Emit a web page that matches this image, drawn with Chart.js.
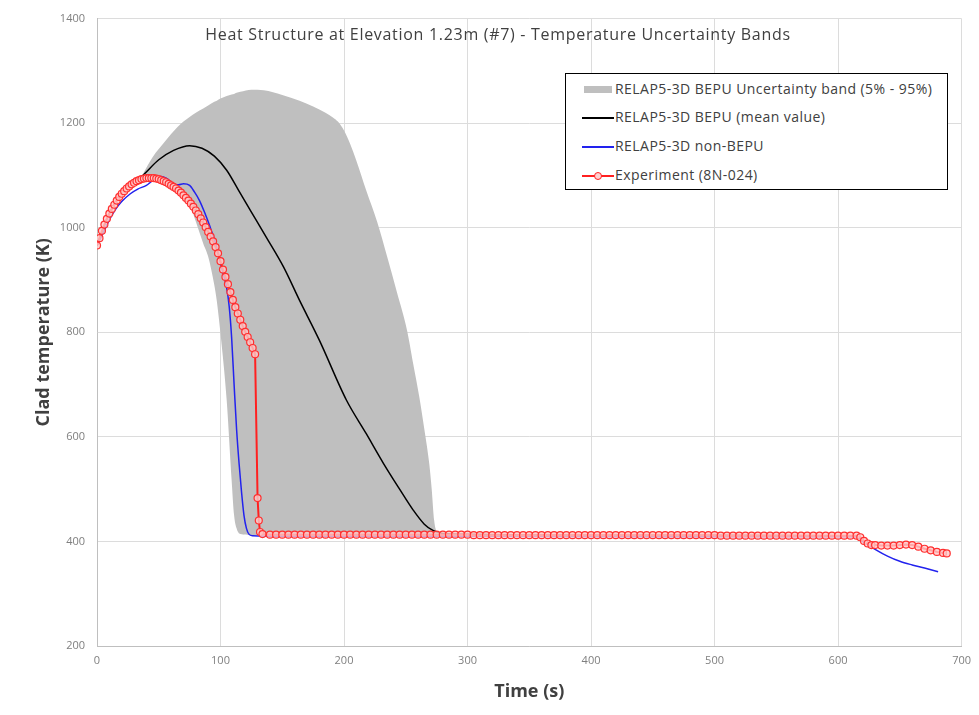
<!doctype html>
<html lang="en">
    <head>
        <meta charset="UTF-8" />
        <title>Heat Structure at Elevation 1.23m (#7)</title>
        <script src="https://cdn.jsdelivr.net/npm/chart.js"></script>
        <style>
            body {
                margin: 0;
                background: #fff;
                font-family: "Open Sans", Arial, sans-serif;
            }
            #wrap {
                position: relative;
                width: 979px;
                height: 715px;
            }
            #legend {
                position: absolute;
                left: 565px;
                top: 73px;
                width: 381px;
                height: 115px;
                border: 1px solid #000;
                background: #fff;
                font-size: 14px;
                letter-spacing: 0.45px;
                color: #404040;
            }
            .item {
                position: absolute;
                left: 16px;
                height: 20px;
                line-height: 20px;
                white-space: nowrap;
            }
            .sw {
                display: inline-block;
                position: relative;
                width: 32px;
                height: 20px;
                vertical-align: top;
                margin-right: 1px;
            }
            .sw span {
                position: absolute;
                left: 0;
                right: 0;
            }
        </style>
    </head>
    <body>
        <div id="wrap">
            <canvas id="chart" width="979" height="715"></canvas>
            <div id="legend">
                <div class="item" style="top: 5px">
                    <span class="sw"><span style="top: 7px; height: 7px; background: #bfbfbf; left: 2px; right: 2px"></span></span>RELAP5-3D BEPU Uncertainty band (5% - 95%)
                </div>
                <div class="item" style="top: 33px">
                    <span class="sw"><span style="top: 10px; height: 1.5px; background: #000"></span></span>RELAP5-3D BEPU (mean value)
                </div>
                <div class="item" style="top: 62px">
                    <span class="sw"><span style="top: 10px; height: 1.5px; background: #2222ee"></span></span>RELAP5-3D non-BEPU
                </div>
                <div class="item" style="top: 91px">
                    <span class="sw"><span style="top: 10px; height: 1.5px; background: #ff2020"></span><span style="left: 12px; right: auto; top: 7px; width: 6px; height: 6px; border: 1px solid #ff2020; border-radius: 50%; background: #ffd0d0"></span></span>Experiment (8N-024)
                </div>
            </div>
        </div>

        <script>
            // uncertainty band (5% - 95%)
            const bandTime = [37, 45, 55, 65, 70, 75, 80, 86, 90, 95, 97, 100, 105, 109, 111, 113, 116, 125, 135, 150, 164, 175, 185, 191, 195, 200, 205, 210, 218, 227, 235, 243, 251, 256, 261, 265, 269, 271, 273, 275, 280, 290];
            const bandHigh = [1102, 1135, 1165, 1192, 1203, 1212, 1220, 1228, 1234, 1241, 1243, 1247, 1252, 1255, 1256, 1258, 1260, 1264, 1263, 1254, 1243, 1232, 1220, 1211, 1203, 1186, 1160, 1128, 1071, 1010, 944, 875, 804, 740, 676, 615, 549, 500, 440, 420, 416, 414];
            const bandLow = [1100, 1093, 1085, 1070, 1060, 1045, 1012, 970, 945, 890, 860, 797, 670, 517, 450, 425, 414, 412, 412, 412, 412, 412, 412, 412, 412, 412, 412, 412, 412, 412, 412, 412, 412, 412, 412, 412, 412, 412, 412, 412, 412, 412];

            // BEPU mean value
            const meanTime = [0, 10, 20, 30, 36, 50, 62, 75, 85, 95, 105, 115, 125, 137, 151, 164, 180, 202, 218, 232, 245, 256, 265, 272, 280, 290, 400, 500, 600, 615, 620, 625];
            const meanTemp = [966, 1028, 1066, 1088, 1098, 1130, 1148, 1157, 1152, 1137, 1110, 1070, 1030, 982, 925, 861, 785, 670, 606, 549, 500, 460, 433, 421, 415, 414, 412, 412, 411, 410, 400, 395];

            // non-BEPU
            const baseTime = [0, 5, 10, 15, 20, 27, 33, 40, 45, 52, 56, 62, 66, 70, 75, 79, 83, 87, 91, 96, 100, 103, 105, 107, 109, 111, 113, 115, 117, 119, 121, 123, 126, 150, 300, 450, 615, 620, 630, 640, 650, 660, 670, 681];
            const baseTemp = [966, 990, 1015, 1035, 1050, 1065, 1074, 1081, 1090, 1098, 1095, 1084, 1082, 1084, 1081, 1068, 1052, 1030, 1005, 970, 932, 905, 885, 850, 790, 700, 615, 550, 495, 450, 425, 414, 411, 410, 410, 409, 409, 400, 385, 372, 362, 355, 349, 342];

            // experiment 8N-024
            const expTime = [
                0, 2, 4, 6, 8, 10, 12, 14, 16, 18, 20, 22, 24, 26, 28, 30, 32, 34, 36, 38, 40, 42, 44, 46, 48, 50, 52, 54, 56, 58, 60, 62, 64,
                66, 68, 70, 72, 74, 76, 78, 80, 82, 84, 86, 88, 90, 92, 94, 96, 98, 100, 102, 104, 106, 108, 110, 112, 114, 116, 118, 120, 122, 124, 126, 128,
                130, 131, 132, 134,
                140, 145, 150, 155, 160, 165, 170, 175, 180, 185, 190, 195, 200, 205, 210, 215, 220, 225, 230, 235, 240, 245, 250, 255, 260, 265, 270, 275, 280, 285, 290, 295, 300,
                305, 310, 315, 320, 325, 330, 335, 340, 345, 350, 355, 360, 365, 370, 375, 380, 385, 390, 395, 400, 405, 410, 415, 420, 425, 430, 435, 440, 445, 450, 455, 460, 465, 470, 475, 480, 485, 490, 495, 500,
                505, 510, 515, 520, 525, 530, 535, 540, 545, 550, 555, 560, 565, 570, 575, 580, 585, 590, 595, 600, 605, 610, 615,
                618, 621, 624, 627, 630, 635, 640, 645, 650, 655, 660, 665, 670, 675, 680, 685, 688
            ];
            const expTemp = [
                966, 980, 994, 1006, 1017, 1027, 1036, 1044, 1052, 1059, 1065, 1070, 1075, 1079, 1083, 1086, 1089, 1091, 1093, 1094, 1095, 1095, 1095, 1095, 1094, 1093, 1091, 1089, 1087, 1084, 1081, 1078, 1075,
                1071, 1067, 1062, 1057, 1052, 1046, 1040, 1033, 1026, 1018, 1010, 1001, 992, 983, 974, 963, 951, 936, 920, 906, 892, 877, 862, 848, 836, 824, 812, 801, 791, 781, 770, 758,
                483, 440, 418, 414,
                413, 413, 413, 413, 413, 413, 413, 413, 413, 413, 413, 413, 413, 413, 413, 413, 413, 413, 413, 413, 413, 413, 413, 413, 413, 413, 413, 413, 413, 413, 413, 413, 413,
                412, 412, 412, 412, 412, 412, 412, 412, 412, 412, 412, 412, 412, 412, 412, 412, 412, 412, 412, 412, 412, 412, 412, 412, 412, 412, 412, 412, 412, 412, 412, 412, 412, 412, 412, 412, 412, 412, 412, 412,
                411, 411, 411, 411, 411, 411, 411, 411, 411, 411, 411, 411, 411, 411, 411, 411, 411, 411, 411, 411, 411, 411, 411,
                408, 401, 396, 393, 393, 392, 392, 392, 393, 394, 393, 390, 386, 383, 380, 378, 377
            ];

            const xTicks = [0, 100, 200, 300, 400, 500, 600, 700];
            const yTicks = [200, 400, 600, 800, 1000, 1200, 1400];

            function pts(xs, ys) {
                return xs.map((x, i) => ({ x: x, y: ys[i] }));
            }

            const tickFont = { family: "'Liberation Sans Narrow', 'Open Sans', sans-serif", size: 11 };
            const titleFont = { family: "'Open Sans', sans-serif", size: 18, weight: "bold" };

            const chartTitle = {
                id: "chartTitle",
                afterDraw(chart) {
                    const ctx = chart.ctx;
                    ctx.save();
                    ctx.font = "16px 'Open Sans', sans-serif";
                    ctx.letterSpacing = "0.7px";
                    ctx.fillStyle = "#404040";
                    ctx.textAlign = "center";
                    ctx.textBaseline = "middle";
                    ctx.fillText("Heat Structure at Elevation 1.23m (#7) - Temperature Uncertainty Bands", 498, 35);
                    ctx.restore();
                },
            };

            new Chart(document.getElementById("chart"), {
                type: "line",
                data: {
                    datasets: [
                        {
                            label: "Experiment (8N-024)",
                            data: pts(expTime, expTemp),
                            borderColor: "#ff2020",
                            backgroundColor: "rgba(255,200,200,0.8)",
                            borderWidth: 2,
                            pointRadius: 3.5,
                            pointBorderWidth: 1.2,
                            pointBorderColor: "#ff3030",
                            order: 0,
                        },
                        {
                            label: "RELAP5-3D non-BEPU",
                            data: pts(baseTime, baseTemp),
                            borderColor: "#2222ee",
                            borderWidth: 1.5,
                            pointRadius: 0,
                            cubicInterpolationMode: "monotone",
                            order: 1,
                        },
                        {
                            label: "RELAP5-3D BEPU (mean value)",
                            data: pts(meanTime, meanTemp),
                            borderColor: "#000",
                            borderWidth: 1.5,
                            pointRadius: 0,
                            cubicInterpolationMode: "monotone",
                            order: 2,
                        },
                        {
                            label: "band low",
                            data: pts(bandTime, bandLow),
                            borderWidth: 0,
                            borderColor: "rgba(0,0,0,0)",
                            pointRadius: 0,
                            cubicInterpolationMode: "monotone",
                            order: 3,
                        },
                        {
                            label: "RELAP5-3D BEPU Uncertainty band (5% - 95%)",
                            data: pts(bandTime, bandHigh),
                            borderWidth: 0,
                            borderColor: "rgba(0,0,0,0)",
                            backgroundColor: "#bfbfbf",
                            fill: "-1",
                            pointRadius: 0,
                            cubicInterpolationMode: "monotone",
                            order: 4,
                        },
                    ],
                },
                options: {
                    responsive: false,
                    animation: false,
                    layout: { padding: { left: 27, right: 17, top: 18, bottom: 8 } },
                    plugins: {
                        legend: { display: false },
                        tooltip: { enabled: false },
                    },
                    scales: {
                        x: {
                            type: "linear",
                            min: 0,
                            max: 700,
                            afterBuildTicks(scale) {
                                scale.ticks = xTicks.map((v) => ({ value: v }));
                            },
                            afterFit(scale) {
                                scale.height = 61;
                            },
                            grid: { color: "#dcdcdc", drawTicks: false },
                            border: { color: "#bfbfbf" },
                            ticks: { color: "#7f7f7f", font: tickFont, padding: 8 },
                            title: {
                                display: true,
                                text: "Time (s)",
                                color: "#404040",
                                font: titleFont,
                                padding: { top: 4, bottom: 4 },
                            },
                        },
                        y: {
                            min: 200,
                            max: 1400,
                            afterBuildTicks(scale) {
                                scale.ticks = yTicks.map((v) => ({ value: v }));
                            },
                            afterFit(scale) {
                                scale.width = 70;
                            },
                            grid: { color: "#dcdcdc", drawTicks: false },
                            border: { color: "#bfbfbf" },
                            ticks: {
                                color: "#7f7f7f",
                                font: tickFont,
                                padding: 12,
                                callback: (v) => String(v),
                            },
                            title: {
                                display: true,
                                text: "Clad temperature (K)",
                                color: "#404040",
                                font: titleFont,
                                padding: { top: 6, bottom: 0 },
                            },
                        },
                    },
                },
                plugins: [chartTitle],
            });
        </script>
    </body>
</html>
